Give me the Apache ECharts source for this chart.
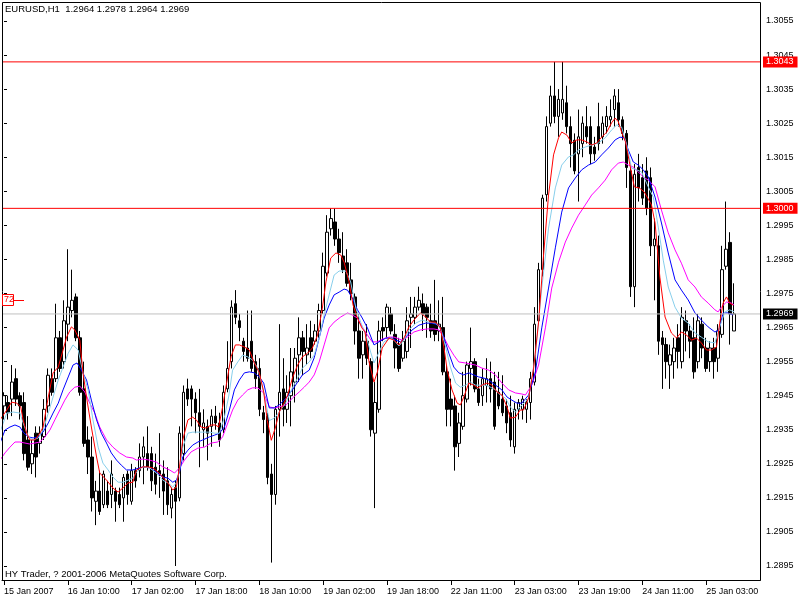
<!DOCTYPE html>
<html><head><meta charset="utf-8">
<script src="https://cdn.jsdelivr.net/npm/echarts@6/dist/echarts.min.js"></script>
<style>html,body{margin:0;padding:0;background:#fff}#c{width:800px;height:600px}</style>
</head><body><div id="c"></div>
<script>
const symbolName = 'EURUSD,H1';
const footerText = 'HY Trader, ? 2001-2006 MetaQuotes Software Corp.';
const tickLabels = ['15 Jan 2007','16 Jan 10:00','17 Jan 02:00','17 Jan 18:00','18 Jan 10:00','19 Jan 02:00','19 Jan 18:00','22 Jan 11:00','23 Jan 03:00','23 Jan 19:00','24 Jan 11:00','25 Jan 03:00'];
const redLevels = [1.3043, 1.3000];
const bidLevel = 1.2969;
const objLevel = 1.2973;
const objText = '72';

const opens = [
1.2942,1.2943,1.2944,1.2950,1.2945,1.2943,1.2932,1.2925,1.2934,1.2931,
1.2933,1.2942,1.2950,1.2950,1.2962,1.2955,1.2966,1.2970,1.2974,1.2962,
1.2947,1.2932,1.2927,1.2914,1.2917,1.2913,1.2917,1.2916,1.2917,1.2916,
1.2915,1.2922,1.2914,1.2923,1.2923,1.2927,1.2928,1.2928,1.2924,1.2923,
1.2922,1.2920,1.2912,1.2918,1.2915,1.2928,1.2947,1.2947,1.2944,1.2940,
1.2935,1.2936,1.2936,1.2939,1.2937,1.2935,1.2947,1.2955,1.2972,1.2967,
1.2961,1.2959,1.2961,1.2955,1.2953,1.2940,1.2939,1.2922,1.2916,1.2941,
1.2947,1.2941,1.2945,1.2949,1.2957,1.2962,1.2957,1.2962,1.2961,1.2964,
1.2970,1.2981,1.2994,1.2996,1.2991,1.2986,1.2984,1.2979,1.2974,1.2964,
1.2957,1.2961,1.2955,1.2934,1.2941,1.2965,1.2965,1.2969,1.2963,1.2960,
1.2956,1.2958,1.2968,1.2968,1.2971,1.2972,1.2971,1.2967,1.2967,1.2964,
1.2965,1.2952,1.2944,1.2942,1.2931,1.2936,1.2944,1.2953,1.2955,1.2947,
1.2945,1.2948,1.2950,1.2949,1.2946,1.2944,1.2942,1.2940,1.2930,1.2941,
1.2941,1.2941,1.2943,1.2949,1.2967,1.2982,1.3004,1.3025,1.3033,1.3027,
1.3028,1.3031,1.3024,1.3020,1.3016,1.3019,1.3024,1.3024,1.3018,1.3024,
1.3021,1.3024,1.3026,1.3029,1.3031,1.3026,1.3022,1.3011,1.2977,1.3012,
1.3009,1.3011,1.3009,1.2989,1.2989,1.2962,1.2960,1.2954,1.2955,1.2962,
1.2955,1.2967,1.2964,1.2962,1.2955,1.2966,1.2959,1.2955,1.2959,1.2956,
1.2963,1.2983,1.2990,1.2964];
const closes = [
1.2945,1.2940,1.2949,1.2944,1.2942,1.2928,1.2924,1.2928,1.2927,1.2934,
1.2941,1.2951,1.2946,1.2962,1.2953,1.2967,1.2971,1.2973,1.2962,1.2946,
1.2931,1.2927,1.2915,1.2917,1.2911,1.2922,1.2913,1.2922,1.2914,1.2913,
1.2921,1.2916,1.2923,1.2920,1.2927,1.2930,1.2924,1.2920,1.2919,1.2922,
1.2917,1.2913,1.2916,1.2914,1.2934,1.2946,1.2944,1.2944,1.2940,1.2936,
1.2937,1.2934,1.2939,1.2937,1.2932,1.2946,1.2953,1.2971,1.2968,1.2965,
1.2958,1.2956,1.2953,1.2950,1.2941,1.2938,1.2921,1.2916,1.2941,1.2946,
1.2941,1.2946,1.2952,1.2956,1.2962,1.2958,1.2959,1.2958,1.2964,1.2970,
1.2983,1.2993,1.2997,1.2991,1.2987,1.2982,1.2978,1.2975,1.2964,1.2956,
1.2961,1.2956,1.2935,1.2943,1.2964,1.2964,1.2971,1.2964,1.2959,1.2953,
1.2961,1.2967,1.2969,1.2971,1.2973,1.2969,1.2968,1.2964,1.2963,1.2966,
1.2952,1.2941,1.2941,1.2930,1.2937,1.2945,1.2954,1.2955,1.2947,1.2943,
1.2950,1.2950,1.2947,1.2936,1.2942,1.2940,1.2937,1.2932,1.2941,1.2943,
1.2944,1.2943,1.2950,1.2966,1.2982,1.3003,1.3024,1.3033,1.3027,1.3032,
1.3032,1.3024,1.3019,1.3011,1.3021,1.3025,1.3021,1.3016,1.3016,1.3019,
1.3025,1.3027,1.3027,1.3033,1.3026,1.3022,1.3012,1.2977,1.3010,1.3006,
1.3003,1.3000,1.2989,1.2991,1.2961,1.2960,1.2955,1.2957,1.2959,1.2958,
1.2968,1.2964,1.2961,1.2952,1.2967,1.2959,1.2953,1.2959,1.2955,1.2964,
1.2982,1.2988,1.2969,1.2969];
const lows = [
1.2938,1.2938,1.2939,1.2942,1.2938,1.2926,1.2923,1.2922,1.2921,1.2928,
1.2932,1.2940,1.2945,1.2949,1.2952,1.2953,1.2961,1.2968,1.2961,1.2945,
1.2930,1.2922,1.2911,1.2907,1.2910,1.2912,1.2912,1.2912,1.2908,1.2912,
1.2908,1.2913,1.2913,1.2918,1.2921,1.2919,1.2923,1.2917,1.2916,1.2915,
1.2910,1.2910,1.2909,1.2895,1.2914,1.2926,1.2942,1.2936,1.2934,1.2924,
1.2930,1.2926,1.2930,1.2935,1.2930,1.2934,1.2946,1.2953,1.2966,1.2961,
1.2955,1.2955,1.2952,1.2947,1.2939,1.2934,1.2919,1.2896,1.2913,1.2933,
1.2936,1.2937,1.2936,1.2943,1.2949,1.2951,1.2954,1.2956,1.2960,1.2962,
1.2969,1.2980,1.2992,1.2989,1.2984,1.2981,1.2977,1.2973,1.2960,1.2950,
1.2950,1.2954,1.2933,1.2912,1.2940,1.2961,1.2962,1.2963,1.2953,1.2952,
1.2955,1.2956,1.2959,1.2966,1.2970,1.2964,1.2962,1.2962,1.2961,1.2961,
1.2951,1.2936,1.2936,1.2923,1.2927,1.2935,1.2943,1.2948,1.2946,1.2942,
1.2942,1.2943,1.2943,1.2935,1.2941,1.2939,1.2934,1.2930,1.2928,1.2938,
1.2938,1.2937,1.2938,1.2948,1.2966,1.2980,1.3002,1.3024,1.3025,1.3021,
1.3026,1.3022,1.3012,1.3010,1.3002,1.3015,1.3019,1.3013,1.3014,1.3017,
1.3019,1.3022,1.3024,1.3024,1.3024,1.3020,1.3006,1.2974,1.2971,1.3002,
1.3001,1.2998,1.2986,1.2973,1.2957,1.2947,1.2950,1.2947,1.2950,1.2953,
1.2953,1.2958,1.2956,1.2950,1.2953,1.2956,1.2952,1.2952,1.2950,1.2952,
1.2962,1.2982,1.2960,1.2964];
const highs = [
1.2946,1.2945,1.2954,1.2953,1.2946,1.2946,1.2939,1.2932,1.2936,1.2936,
1.2944,1.2953,1.2953,1.2972,1.2964,1.2973,1.2988,1.2982,1.2975,1.2964,
1.2955,1.2936,1.2933,1.2920,1.2923,1.2923,1.2920,1.2926,1.2918,1.2918,
1.2922,1.2923,1.2925,1.2924,1.2931,1.2933,1.2936,1.2930,1.2928,1.2934,
1.2926,1.2924,1.2918,1.2920,1.2936,1.2948,1.2950,1.2948,1.2946,1.2947,
1.2941,1.2938,1.2941,1.2942,1.2940,1.2948,1.2961,1.2973,1.2976,1.2969,
1.2962,1.2970,1.2970,1.2957,1.2956,1.2942,1.2940,1.2925,1.2942,1.2966,
1.2956,1.2951,1.2959,1.2959,1.2968,1.2964,1.2966,1.2967,1.2966,1.2972,
1.2987,1.2998,1.3000,1.3000,1.2994,1.2993,1.2988,1.2984,1.2975,1.2969,
1.2964,1.2966,1.2956,1.2949,1.2967,1.2968,1.2972,1.2971,1.2966,1.2962,
1.2964,1.2971,1.2974,1.2974,1.2977,1.2975,1.2972,1.2972,1.2979,1.2973,
1.2974,1.2954,1.2950,1.2945,1.2940,1.2952,1.2955,1.2965,1.2956,1.2950,
1.2953,1.2956,1.2955,1.2952,1.2952,1.2951,1.2944,1.2945,1.2943,1.2944,
1.2945,1.2944,1.2952,1.2971,1.2984,1.3004,1.3027,1.3036,1.3043,1.3035,
1.3043,1.3036,1.3027,1.3022,1.3029,1.3027,1.3030,1.3027,1.3021,1.3031,
1.3027,1.3030,1.3032,1.3035,1.3035,1.3027,1.3023,1.3012,1.3013,1.3016,
1.3013,1.3015,1.3012,1.2997,1.2992,1.2964,1.2962,1.2960,1.2962,1.2966,
1.2971,1.2970,1.2966,1.2968,1.2969,1.2968,1.2962,1.2961,1.2962,1.2966,
1.2989,1.3002,1.2993,1.2978];

// moving averages: [bar position, price]
const maRed = [[-1,1.29379],[0.7,1.29408],[1.9,1.29431],[3.2,1.29428],[4.2,1.29417],[4.8,1.29379],[5.7,1.29340],[6.5,1.29320],[7.75,1.29320],[9,1.29340],[9.8,1.29358],[11.1,1.29446],[12.3,1.29517],[13.6,1.29534],[14.8,1.29584],[15.7,1.29622],[16.9,1.29652],[17.75,1.29643],[19,1.29613],[19.8,1.29517],[20.8,1.29437],[21.9,1.29358],[23.2,1.29270],[24,1.29223],[25.7,1.29202],[27.3,1.29179],[28.6,1.29167],[29.8,1.29179],[31.1,1.29194],[32.3,1.29196],[33.2,1.29232],[34.8,1.29241],[36.1,1.29241],[37.3,1.29238],[38.6,1.29226],[39.8,1.29211],[41.1,1.29194],[42.3,1.29173],[43.2,1.29182],[44,1.29241],[44.8,1.29320],[46.1,1.29379],[47.3,1.29387],[48.2,1.29379],[49.4,1.29358],[50.7,1.29355],[51.9,1.29364],[53,1.29364],[53.8,1.29358],[54.8,1.29417],[55.8,1.29487],[56.9,1.29564],[58,1.29599],[59,1.29599],[60.25,1.29593],[61.5,1.29584],[62.75,1.29546],[64,1.29517],[65.1,1.29461],[66,1.29377],[67,1.29319],[68,1.29355],[69,1.29402],[70,1.29423],[71.1,1.29452],[72.3,1.29502],[73.6,1.29540],[74.8,1.29564],[76.1,1.29575],[77.3,1.29590],[78.6,1.29628],[79.8,1.29707],[80.7,1.29784],[81.9,1.29854],[83.2,1.29869],[84.4,1.29863],[85.25,1.29842],[86.5,1.29784],[87.5,1.29716],[88.6,1.29678],[89.7,1.29649],[90.5,1.29637],[91.5,1.29549],[92.75,1.29490],[93.6,1.29520],[94.8,1.29590],[96.5,1.29619],[97.75,1.29613],[99,1.29599],[100.25,1.29619],[101.5,1.29652],[102.75,1.29672],[104.4,1.29693],[105.7,1.29681],[106.9,1.29666],[108.2,1.29666],[109.4,1.29649],[110.25,1.29593],[111.1,1.29525],[112.3,1.29467],[113.6,1.29428],[114.4,1.29423],[115.25,1.29446],[116.5,1.29487],[117.75,1.29481],[118.8,1.29473],[119.8,1.29481],[121.1,1.29487],[122.3,1.29481],[123.6,1.29461],[124.8,1.29452],[126.1,1.29417],[126.9,1.29384],[128.2,1.29387],[129.4,1.29408],[130.25,1.29408],[131.5,1.29443],[132.75,1.29531],[134,1.29666],[135.25,1.29863],[136.5,1.30039],[137.75,1.30157],[139,1.30207],[139.8,1.30224],[141.1,1.30215],[142.3,1.30192],[143.6,1.30201],[144.8,1.30201],[146.1,1.30195],[147.3,1.30186],[148.6,1.30192],[149.8,1.30209],[151.1,1.30224],[152.3,1.30251],[153.2,1.30265],[154,1.30254],[154.8,1.30224],[155.8,1.30195],[156.9,1.30127],[158,1.30063],[159.25,1.30060],[160.5,1.30048],[161.6,1.30025],[162.3,1.30010],[163.2,1.29957],[164.4,1.29798],[165.7,1.29681],[167.3,1.29634],[168.6,1.29619],[169.8,1.29637],[171.1,1.29628],[172.3,1.29613],[173.6,1.29619],[174.8,1.29605],[176.1,1.29584],[177.3,1.29584],[178.6,1.29593],[179.4,1.29663],[180.25,1.29722],[181.1,1.29740],[181.9,1.29722],[182.75,1.29716]];
const maSky = [[-1,1.29343],[0.7,1.29399],[2.3,1.29402],[4,1.29399],[4.8,1.29370],[6.1,1.29329],[7.3,1.29320],[8.6,1.29326],[9.8,1.29349],[11.1,1.29399],[12.3,1.29446],[13.6,1.29496],[14.8,1.29534],[16.1,1.29575],[17.3,1.29599],[18.6,1.29584],[19.8,1.29517],[21.1,1.29467],[22.3,1.29379],[23.6,1.29299],[24.8,1.29252],[26.1,1.29232],[27.3,1.29211],[28.6,1.29196],[29.8,1.29196],[31.1,1.29202],[32.3,1.29208],[33.2,1.29226],[34.8,1.29241],[36.5,1.29238],[38.2,1.29223],[39.8,1.29202],[41.1,1.29194],[42.3,1.29182],[43.2,1.29194],[44,1.29232],[44.8,1.29299],[46.1,1.29340],[47.3,1.29343],[48.6,1.29343],[49.8,1.29343],[51.5,1.29343],[52.75,1.29340],[54,1.29340],[55.25,1.29387],[56.3,1.29446],[57.3,1.29525],[58.6,1.29549],[59.8,1.29569],[61.1,1.29564],[62.3,1.29555],[63.6,1.29531],[65.25,1.29452],[66.5,1.29377],[67.75,1.29384],[69,1.29402],[70.7,1.29431],[72.3,1.29473],[73.6,1.29502],[74.8,1.29531],[76.5,1.29549],[77.75,1.29569],[79,1.29619],[80.25,1.29687],[81.5,1.29746],[82.75,1.29804],[84,1.29816],[85.7,1.29816],[86.9,1.29784],[88.2,1.29707],[89.4,1.29666],[90.7,1.29628],[91.9,1.29578],[92.75,1.29546],[94,1.29578],[95.25,1.29608],[96.9,1.29619],[97.75,1.29613],[99,1.29596],[100.25,1.29613],[101.5,1.29643],[103.2,1.29663],[104.8,1.29672],[106.5,1.29666],[108.2,1.29663],[109.4,1.29649],[110.7,1.29593],[111.9,1.29534],[113.2,1.29487],[114.4,1.29475],[115.7,1.29481],[116.9,1.29490],[118.2,1.29481],[119.4,1.29481],[120.7,1.29481],[121.9,1.29475],[123.2,1.29467],[124.4,1.29452],[125.7,1.29443],[126.9,1.29417],[128.2,1.29402],[129.4,1.29417],[131.5,1.29443],[133.2,1.29569],[134.8,1.29766],[136.5,1.29942],[138.2,1.30060],[139.8,1.30127],[141.5,1.30151],[142.75,1.30157],[144,1.30171],[145.7,1.30180],[147.3,1.30186],[149,1.30192],[150.7,1.30207],[152.3,1.30230],[153.6,1.30245],[154.8,1.30239],[156.1,1.30186],[157.3,1.30118],[158.6,1.30113],[159.8,1.30107],[161.5,1.30063],[162.75,1.30033],[164,1.29945],[165.25,1.29848],[166.5,1.29769],[168.2,1.29710],[169.8,1.29678],[171.5,1.29663],[173.2,1.29634],[174.8,1.29622],[176.5,1.29608],[178.2,1.29605],[179.4,1.29652],[180.7,1.29696],[181.9,1.29702],[183,1.29696]];
const maBlue = [[-1,1.29311],[0.25,1.29349],[1.5,1.29358],[2.75,1.29364],[4,1.29358],[4.8,1.29343],[6.1,1.29329],[7.3,1.29326],[8.6,1.29329],[9.8,1.29343],[11.1,1.29370],[12.3,1.29399],[13.6,1.29428],[14.8,1.29467],[16.1,1.29505],[17.3,1.29540],[18.3,1.29546],[19.4,1.29525],[20.7,1.29496],[21.9,1.29437],[23.2,1.29379],[24.4,1.29340],[25.7,1.29311],[26.9,1.29282],[28.2,1.29261],[29.4,1.29246],[30.7,1.29232],[32.3,1.29232],[34.8,1.29241],[36.5,1.29238],[38.2,1.29226],[39.8,1.29211],[41.1,1.29208],[42.3,1.29196],[43.2,1.29202],[44,1.29226],[44.8,1.29270],[46.1,1.29290],[47.3,1.29305],[48.6,1.29314],[49.8,1.29320],[51.5,1.29329],[52.75,1.29334],[54,1.29340],[55.25,1.29358],[56.5,1.29408],[57.75,1.29467],[59,1.29496],[60.25,1.29517],[61.5,1.29520],[62.75,1.29517],[64,1.29505],[65.1,1.29487],[66.5,1.29414],[67.75,1.29414],[69,1.29423],[70.7,1.29443],[72.3,1.29467],[73.6,1.29490],[74.8,1.29511],[76.5,1.29525],[77.75,1.29561],[79,1.29619],[80.25,1.29678],[81.5,1.29716],[82.75,1.29746],[84,1.29754],[85.25,1.29763],[86.1,1.29760],[87.3,1.29737],[88.6,1.29702],[89.8,1.29678],[91.1,1.29649],[92.75,1.29599],[94,1.29608],[95.7,1.29619],[97.3,1.29619],[98.2,1.29613],[99.4,1.29608],[100.7,1.29622],[102.3,1.29643],[104,1.29657],[105.7,1.29663],[107.3,1.29663],[109,1.29657],[110.25,1.29622],[111.5,1.29575],[112.75,1.29534],[114,1.29517],[115.25,1.29511],[116.5,1.29517],[117.75,1.29511],[119,1.29505],[120.25,1.29502],[121.5,1.29496],[123.2,1.29481],[124.8,1.29467],[126.1,1.29446],[127.3,1.29437],[128.6,1.29428],[129.8,1.29428],[131.5,1.29452],[133.2,1.29520],[134.8,1.29649],[136.5,1.29766],[138.2,1.29884],[139.8,1.29989],[141.5,1.30060],[143.2,1.30089],[144.8,1.30113],[146.5,1.30127],[148.2,1.30136],[149.8,1.30157],[151.5,1.30177],[153.2,1.30201],[154.4,1.30209],[155.5,1.30207],[156.5,1.30171],[157.75,1.30136],[159,1.30127],[160.25,1.30113],[161.5,1.30092],[163.2,1.30033],[164.8,1.29957],[166.5,1.29869],[168.2,1.29790],[169.8,1.29760],[171.5,1.29731],[173.2,1.29693],[174.8,1.29672],[176.5,1.29652],[178.2,1.29637],[179.2,1.29643],[180.25,1.29693],[181.5,1.29693],[182.75,1.29687]];
const maMagenta = [[-1,1.29261],[0.25,1.29282],[1.5,1.29299],[2.75,1.29314],[4,1.29314],[5.25,1.29311],[6.5,1.29308],[7.75,1.29311],[9,1.29314],[10.25,1.29329],[11.5,1.29349],[12.75,1.29379],[14,1.29408],[15.25,1.29437],[16.5,1.29461],[17.75,1.29475],[19,1.29478],[20.25,1.29461],[21.5,1.29428],[22.75,1.29399],[24,1.29358],[25.7,1.29320],[27.3,1.29299],[29,1.29282],[30.7,1.29270],[32.3,1.29267],[33.2,1.29261],[34.8,1.29264],[36.5,1.29261],[38.2,1.29255],[39.8,1.29241],[41.5,1.29232],[42.75,1.29223],[44,1.29238],[45.25,1.29261],[46.9,1.29285],[48.6,1.29296],[50.25,1.29299],[51.9,1.29311],[53.6,1.29314],[54.8,1.29329],[56.1,1.29370],[57.3,1.29408],[58.6,1.29437],[59.8,1.29452],[61.1,1.29467],[62.3,1.29473],[63.6,1.29473],[65.1,1.29458],[66.5,1.29417],[67.75,1.29414],[69,1.29417],[70.7,1.29423],[72.3,1.29443],[74,1.29461],[75.25,1.29475],[76.5,1.29490],[77.75,1.29511],[79,1.29549],[80.25,1.29599],[81.5,1.29649],[82.75,1.29666],[84.4,1.29681],[86.1,1.29693],[87.3,1.29687],[88.6,1.29678],[89.8,1.29652],[91.1,1.29628],[92.3,1.29608],[93.6,1.29608],[94.8,1.29616],[96.5,1.29622],[97.75,1.29622],[99.8,1.29613],[101.1,1.29622],[102.75,1.29637],[104.4,1.29643],[106.1,1.29646],[107.75,1.29646],[109,1.29643],[110.25,1.29622],[111.5,1.29593],[112.75,1.29569],[114,1.29549],[115.7,1.29546],[116.9,1.29543],[118.2,1.29540],[119.8,1.29531],[121.5,1.29525],[123.2,1.29511],[124.8,1.29487],[126.5,1.29467],[128.2,1.29458],[129.8,1.29455],[130.7,1.29452],[132.3,1.29481],[134,1.29540],[135.7,1.29649],[137.3,1.29766],[139,1.29842],[140.7,1.29901],[142.3,1.29942],[144,1.29980],[145.7,1.30010],[147.3,1.30039],[149,1.30060],[150.7,1.30083],[152.3,1.30113],[154,1.30133],[155.25,1.30136],[156.5,1.30127],[157.75,1.30121],[159,1.30107],[160.25,1.30092],[161.5,1.30083],[163.2,1.30063],[164.8,1.29995],[166.5,1.29928],[168.2,1.29878],[169.8,1.29839],[171.5,1.29790],[173.2,1.29769],[174.8,1.29740],[176.5,1.29722],[178.2,1.29702],[179,1.29696],[179.8,1.29710],[181.1,1.29725],[182.3,1.29722],[183,1.29716]];

const SLOTS = 190; // bars plus right-hand shift space
const FONT = 'Liberation Sans';
const categories = Array.from({length: SLOTS}, (_, i) => String(i));
const candles = opens.map((o, i) => [o, closes[i], lows[i], highs[i]]);
const last = opens.length - 1;
const header = symbolName + '  ' + [opens[last], highs[last], lows[last], closes[last]].map(v => v.toFixed(4)).join(' ');

const chart = echarts.init(document.getElementById('c'), null, {renderer: 'canvas'});

function levelSeries(v, color, boxColor) {
  return {
    type: 'line', xAxisIndex: 1, yAxisIndex: 0, silent: true, z: 4,
    data: [[-0.5, v], [SLOTS - 0.5, v]], symbol: 'none', showSymbol: false, clip: false,
    lineStyle: {color: color, width: 1, type: 'solid'},
    endLabel: {show: true, distance: 3, formatter: v.toFixed(4),
      color: '#ffffff', backgroundColor: boxColor, padding: [1, 4, 0, 3],
      fontSize: 9, fontFamily: FONT, lineHeight: 10}
  };
}
function maSeries(data, color) {
  return {type: 'line', xAxisIndex: 1, yAxisIndex: 0, data: data,
    symbol: 'none', showSymbol: false, silent: true, clip: true, z: 3,
    lineStyle: {color: color, width: 1}};
}

chart.setOption({
  animation: false,
  backgroundColor: '#ffffff',
  grid: {left: 2, top: 21, width: 758, height: 545, containLabel: false},
  xAxis: [{
    type: 'category', data: categories, boundaryGap: true, offset: 14,
    axisLine: {show: true, lineStyle: {color: '#000', width: 1}},
    axisTick: {show: true, interval: 15, alignWithLabel: true, length: 5, lineStyle: {color: '#000'}},
    axisLabel: {show: true, interval: 15, align: 'left', margin: 7, color: '#000', fontSize: 9, fontFamily: FONT,
      formatter: (v, idx) => tickLabels[idx / 16] || ''},
    splitLine: {show: false}
  }, {
    type: 'value', min: -0.5, max: SLOTS - 0.5, show: false
  }],
  yAxis: {
    type: 'value', position: 'right', min: 1.2895, max: 1.3055, interval: 0.001,
    axisLine: {show: false},
    axisTick: {show: true, length: 3, lineStyle: {color: '#000'}},
    axisLabel: {color: '#000', fontSize: 9, fontFamily: FONT, margin: 6, formatter: v => v.toFixed(4)},
    splitLine: {show: false}
  },
  series: [
    levelSeries(bidLevel, '#c0c0c0', '#000000'),
    levelSeries(redLevels[0], '#ff0000', '#ff0000'),
    levelSeries(redLevels[1], '#ff0000', '#ff0000'),
    {
      type: 'candlestick', xAxisIndex: 0, yAxisIndex: 0, data: candles, barWidth: 3, z: 2,
      itemStyle: {color: '#ffffff', color0: '#000000', borderColor: '#000000', borderColor0: '#000000', borderWidth: 1}
    },
    maSeries(maMagenta, '#ff00ff'),
    maSeries(maBlue, '#0000ff'),
    maSeries(maSky, '#87ceeb'),
    maSeries(maRed, '#ff0000')
  ]
});

const objY = Math.round(chart.convertToPixel({yAxisIndex: 0}, objLevel)) + 0.5;
chart.setOption({
  graphic: [
    {type: 'rect', silent: true, z: 100, shape: {x: 2.5, y: 2.5, width: 758, height: 578},
      style: {fill: 'none', stroke: '#000', lineWidth: 1}},
    {type: 'text', silent: true, z: 100, left: 5, top: 4,
      style: {text: header, fill: '#000', font: '9.5px "' + FONT + '"'}},
    {type: 'text', silent: true, z: 100, left: 5, top: 569,
      style: {text: footerText, fill: '#000', font: '9.5px "' + FONT + '"'}},
    {type: 'rect', silent: true, z: 100, shape: {x: 2.5, y: objY - 6, width: 11, height: 11},
      style: {fill: '#fff', stroke: '#ff0000', lineWidth: 1}},
    {type: 'text', silent: true, z: 101, x: 4, y: objY - 5,
      style: {text: objText, fill: '#ff0000', font: '9px "' + FONT + '"'}},
    {type: 'line', silent: true, z: 100, shape: {x1: 13.5, y1: objY, x2: 24, y2: objY},
      style: {stroke: '#ff0000', lineWidth: 1}}
  ]
});
</script>
</body></html>
